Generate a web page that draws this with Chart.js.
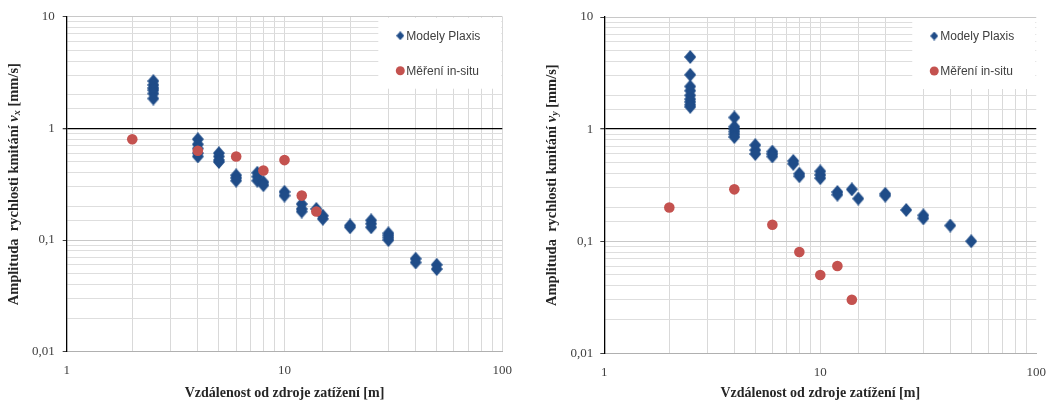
<!DOCTYPE html>
<html>
<head>
<meta charset="utf-8">
<script src="https://cdn.jsdelivr.net/npm/chart.js@4.4.1/dist/chart.umd.min.js"></script>
<style>
    body { margin: 0; background: #fff; }
    .panel { position: absolute; top: 0; height: 404px; }
</style>
</head>
<body>
<div class="panel" style="left:0;width:528px"><canvas id="chartVx"></canvas></div>
<div class="panel" style="left:528px;width:529px"><canvas id="chartVy"></canvas></div>
<script>
// Distances of the Plaxis model points [m]
const plaxisDist = [2.5, 4, 5, 6, 7.5, 8, 10, 12, 14, 15, 20, 25, 30, 40, 50];

// Plaxis amplitudes vx [mm/s], one list per distance
const vxPlaxis = [
    [2.65, 2.45, 2.3, 2.2, 2.05, 1.85],
    [0.8, 0.72, 0.66, 0.6, 0.56],
    [0.6, 0.56, 0.52, 0.5],
    [0.38, 0.36, 0.34],
    [0.4, 0.37, 0.34],
    [0.33, 0.31],
    [0.27, 0.25],
    [0.21, 0.19, 0.18],
    [0.19],
    [0.165, 0.155],
    [0.135, 0.13],
    [0.15, 0.14, 0.13],
    [0.115, 0.11, 0.105, 0.1],
    [0.068, 0.063],
    [0.06, 0.055]
];

// Plaxis amplitudes vy [mm/s]
const vyPlaxis = [
    [4.4, 3.05, 2.4, 2.2, 2.0, 1.85, 1.75, 1.65, 1.58],
    [1.27, 1.05, 1.0, 0.95, 0.9, 0.85],
    [0.72, 0.65, 0.6],
    [0.63, 0.6, 0.57],
    [0.52, 0.49],
    [0.4, 0.38],
    [0.42, 0.39, 0.365],
    [0.275, 0.26],
    [0.29],
    [0.24],
    [0.265, 0.255],
    [0.19],
    [0.17, 0.16],
    [0.138],
    [0.1]
];

// In-situ measurements
const measuredDist = [2, 4, 6, 8, 10, 12, 14];
const vxMeasured = [0.8, 0.63, 0.56, 0.42, 0.52, 0.25, 0.18];
const vyMeasured = [0.2, 0.29, 0.14, 0.08, 0.05, 0.06, 0.03];

// Labelled ticks
const xTickLabels = [1, 10, 100];
const yTickLabels = [0.01, 0.1, 1, 10];

const BLUE = '#1f4c88';
const RED = '#c4524f';
const SERIF = '"Liberation Serif", "Times New Roman", serif';

function isLabelled(value, list) {
    return list.some(t => Math.abs(value - t) / t < 1e-6);
}

function formatTick(value) {
    return String(Number(value.toPrecision(3))).replace('.', ',');
}

function plaxisPoints(values) {
    const pts = [];
    plaxisDist.forEach((d, i) => {
        values[i].forEach(v => pts.push({ x: d, y: v }));
    });
    return pts;
}

function measuredPoints(values) {
    return measuredDist.map((d, i) => ({ x: d, y: values[i] }));
}

// Excel-like diamond, a bit taller than wide
function makeDiamond(w, h, color) {
    const c = document.createElement('canvas');
    c.width = w;
    c.height = h;
    const g = c.getContext('2d');
    g.fillStyle = color;
    g.beginPath();
    g.moveTo(w / 2, 0);
    g.lineTo(w, h / 2);
    g.lineTo(w / 2, h);
    g.lineTo(0, h / 2);
    g.closePath();
    g.fill();
    return c;
}

const diamond = makeDiamond(12, 14, BLUE);
const legendDiamond = makeDiamond(8, 9, BLUE);

// Axis titles (y title has italic v with a subscript)
const axisTitles = {
    id: 'axisTitles',
    afterDraw(chart, args, opts) {
        const ctx = chart.ctx;
        const area = chart.chartArea;

        ctx.save();
        ctx.fillStyle = '#262626';
        ctx.textBaseline = 'middle';
        ctx.textAlign = 'center';
        ctx.font = 'bold 14px ' + SERIF;
        ctx.fillText('Vzdálenost od zdroje zatížení [m]', (area.left + area.right) / 2, 393);

        const parts = [
            { t: 'Amplituda  rychlosti kmitání ', f: 'bold 14.5px ' + SERIF, dy: 0 },
            { t: 'v', f: 'italic bold 14.5px ' + SERIF, dy: 0 },
            { t: opts.sub, f: 'italic bold 10px ' + SERIF, dy: 3 },
            { t: ' [mm/s]', f: 'bold 14.5px ' + SERIF, dy: 0 }
        ];
        let total = 0;
        parts.forEach(p => {
            ctx.font = p.f;
            p.w = ctx.measureText(p.t).width;
            total += p.w;
        });
        ctx.translate(opts.titleX, (area.top + area.bottom) / 2);
        ctx.rotate(-Math.PI / 2);
        ctx.textAlign = 'left';
        let x = -total / 2;
        parts.forEach(p => {
            ctx.font = p.f;
            ctx.fillText(p.t, x, p.dy);
            x += p.w;
        });
        ctx.restore();
    }
};

// Legend box in the upper right corner of the plot
const cornerLegend = {
    id: 'cornerLegend',
    afterDraw(chart) {
        const ctx = chart.ctx;
        const area = chart.chartArea;
        const boxLeft = area.right - 124;
        ctx.save();
        ctx.fillStyle = '#fff';
        ctx.fillRect(boxLeft, area.top + 1, area.right - boxLeft - 1, 71);

        const markerX = area.right - 102;
        const rows = [area.top + 19, area.top + 54];
        chart.data.datasets.forEach((ds, i) => {
            ctx.fillStyle = ds.backgroundColor;
            Chart.helpers.drawPoint(ctx, {
                pointStyle: i === 0 ? legendDiamond : 'circle',
                radius: 4.5,
                rotation: 0,
                borderWidth: 0
            }, markerX, rows[i]);
            ctx.fillStyle = '#404040';
            ctx.font = '12px "Liberation Sans", Arial, sans-serif';
            ctx.textAlign = 'left';
            ctx.textBaseline = 'middle';
            ctx.fillText(ds.label, markerX + 6, rows[i] + 1);
        });
        ctx.restore();
    }
};

function createChart(canvasId, plaxis, measured, layout) {
    const ctx = document.getElementById(canvasId).getContext('2d');
    return new Chart(ctx, {
        type: 'scatter',
        data: {
            datasets: [{
                label: 'Modely Plaxis',
                data: plaxisPoints(plaxis),
                pointStyle: diamond,
                pointRadius: 6,
                backgroundColor: BLUE,
                borderColor: BLUE,
                borderWidth: 0,
                order: 2
            }, {
                label: 'Měření in-situ',
                data: measuredPoints(measured),
                pointStyle: 'circle',
                pointRadius: 5.3,
                backgroundColor: RED,
                borderColor: RED,
                borderWidth: 0,
                order: 1
            }]
        },
        options: {
            responsive: true,
            maintainAspectRatio: false,
            animation: false,
            layout: {
                padding: { top: layout.top, right: layout.right, left: 0, bottom: 0 }
            },
            plugins: {
                legend: { display: false },
                tooltip: { enabled: false },
                axisTitles: { titleX: layout.titleX, sub: layout.sub }
            },
            scales: {
                x: {
                    type: 'logarithmic',
                    min: 1,
                    max: 100,
                    afterFit: scale => { scale.height = layout.xHeight; },
                    grid: {
                        color: c => (layout.hideRightEdge && c.tick && c.tick.value === 100) ? 'rgba(0,0,0,0)' : '#d9d9d9',
                        drawTicks: false
                    },
                    border: { color: '#b0b0b0' },
                    ticks: {
                        autoSkip: false,
                        maxRotation: 0,
                        padding: 11,
                        color: '#404040',
                        font: { family: SERIF, size: 13 },
                        callback: value => isLabelled(value, xTickLabels) ? formatTick(value) : ''
                    }
                },
                y: {
                    type: 'logarithmic',
                    min: 0.01,
                    max: 10,
                    afterFit: scale => { scale.width = layout.yWidth; },
                    grid: {
                        color: c => Math.abs(c.tick.value - 1) < 1e-9 ? '#000' :
                            (isLabelled(c.tick.value, yTickLabels) ? '#c8c8c8' : '#dedede'),
                        lineWidth: c => Math.abs(c.tick.value - 1) < 1e-9 ? 1.3 : 1,
                        tickLength: 4,
                        tickColor: c => isLabelled(c.tick.value, yTickLabels) ? '#404040' : 'rgba(0,0,0,0)'
                    },
                    border: { color: '#000', width: 1.3 },
                    ticks: {
                        autoSkip: false,
                        padding: layout.yPad,
                        color: '#404040',
                        font: { family: SERIF, size: 13 },
                        callback: value => isLabelled(value, yTickLabels) ? formatTick(value) : ''
                    }
                }
            }
        },
        plugins: [axisTitles, cornerLegend]
    });
}

createChart('chartVx', vxPlaxis, vxMeasured, {
    top: 16.7, right: 25.7, xHeight: 52.3, yWidth: 66.7, yPad: 8, titleX: 14.5, sub: 'x',
    hideRightEdge: false
});
createChart('chartVy', vyPlaxis, vyMeasured, {
    top: 17, right: 17, xHeight: 50.7, yWidth: 76.3, yPad: 7, titleX: 24, sub: 'y',
    hideRightEdge: true
});
</script>
</body>
</html>
